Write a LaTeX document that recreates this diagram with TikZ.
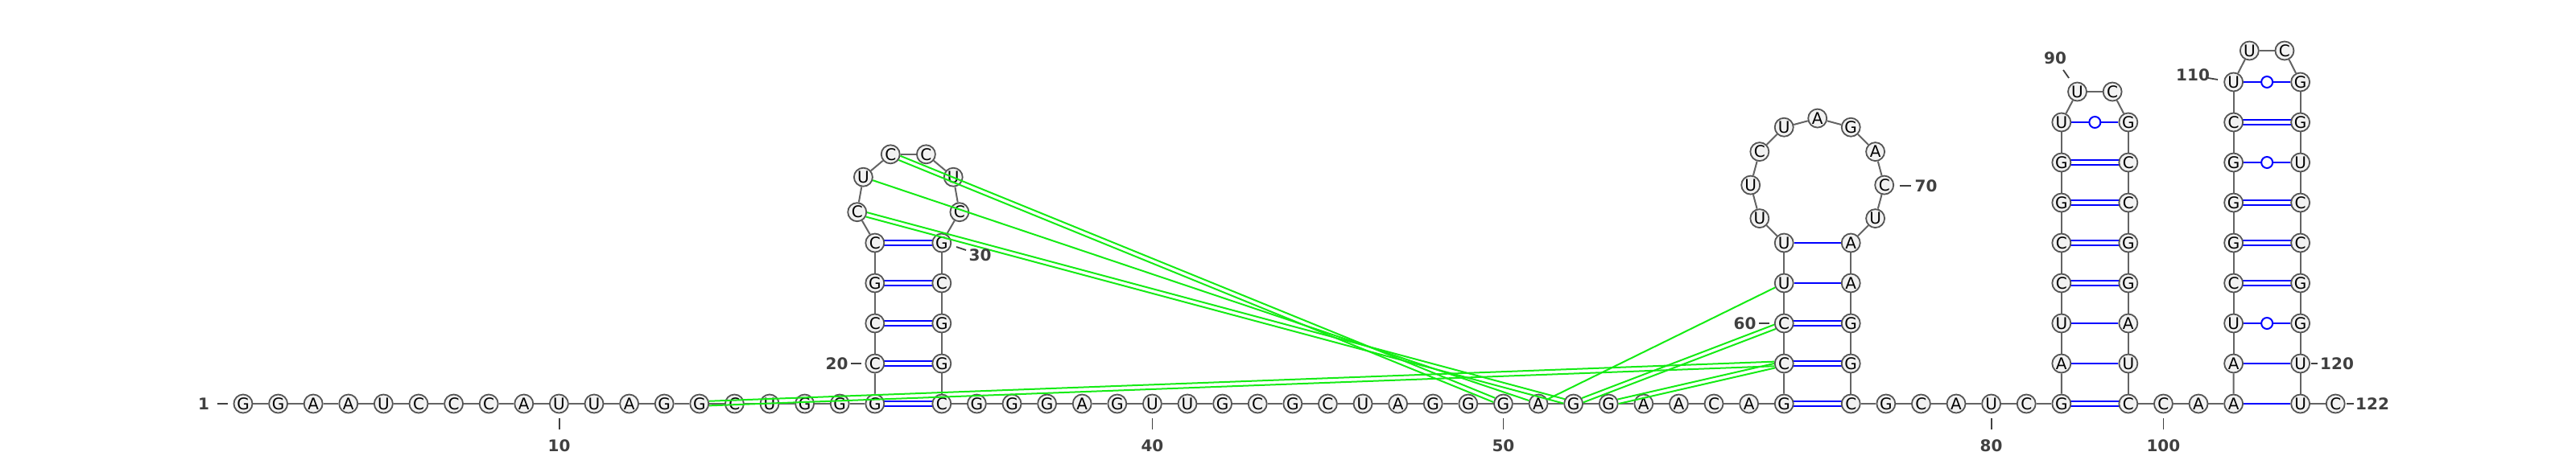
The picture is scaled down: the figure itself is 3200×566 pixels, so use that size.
\documentclass[tikz,border=0pt]{standalone}
\usepackage{fontspec}
\setmainfont{DejaVu Sans}
\usetikzlibrary{calc}
\pgfdeclarelayer{bg}
\pgfsetlayers{bg,main}
\definecolor{ntfill}{RGB}{242,242,242}
\definecolor{ntdraw}{RGB}{85,85,85}
\definecolor{bbcol}{RGB}{100,100,100}
\definecolor{lblcol}{RGB}{64,64,64}
\definecolor{pairblue}{RGB}{0,0,255}
\definecolor{tgreen}{RGB}{20,235,20}
\tikzset{
 nt/.style={circle, draw=ntdraw, line width=1.8pt, fill=ntfill, minimum size=23pt, inner sep=0pt, font=\fontsize{20}{20}\selectfont, text=black},
 bb/.style={draw=bbcol, line width=2pt},
 bpl/.style={draw=pairblue, line width=2.2pt},
 bpd/.style={draw=pairblue, line width=1.9pt},
 wob/.style={circle, draw=pairblue, line width=2pt, fill=white, minimum size=14pt, inner sep=0pt},
 grn/.style={draw=tgreen, line width=2pt},
 grnd/.style={draw=tgreen, line width=2pt, shorten <=12pt, shorten >=12pt},
 lbl/.style={font=\bfseries\fontsize{20}{20}\selectfont, text=lblcol, inner sep=0pt},
 tk/.style={draw=lblcol, line width=1.8pt},
}
\newcommand\bpone[2]{\draw[bpl] (n#1) -- (n#2);}
\newcommand\bptwo[2]{\draw[bpd] ($(n#1)!2.6pt!90:(n#2)$) -- ($(n#2)!2.6pt!-90:(n#1)$); \draw[bpd] ($(n#1)!2.6pt!-90:(n#2)$) -- ($(n#2)!2.6pt!90:(n#1)$);}
\newcommand\bpwob[2]{\draw[bpl] (n#1) -- (n#2); \node[wob] (w#1) at ($(n#1)!0.5!(n#2)$) {};}
\newcommand\gone[2]{\draw[grn] (n#1) -- (n#2);}
\newcommand\gtwo[2]{\draw[grnd] ($(n#1)!2.8pt!90:(n#2)$) -- ($(n#2)!2.8pt!-90:(n#1)$); \draw[grnd] ($(n#1)!2.8pt!-90:(n#2)$) -- ($(n#2)!2.8pt!90:(n#1)$);}
\begin{document}
\begin{tikzpicture}[x=1pt,y=-1pt]
\useasboundingbox (0,0) rectangle (3200,566);
% baseline 1-19
\foreach \i/\b in {1/G,2/G,3/A,4/A,5/U,6/C,7/C,8/C,9/A,10/U,11/U,12/A,13/G,14/G,15/C,16/U,17/G,18/G,19/G}
  \node[nt] (n\i) at ({302+(\i-1)*43.6},502) {\b};
% stem 1
\foreach \i/\b in {20/C,21/C,22/G,23/C}
  \node[nt] (n\i) at (1086.8,{502-(\i-19)*50}) {\b};
\foreach \i/\b/\a in {24/C/190,25/U/150,26/C/110,27/C/70,28/U/30,29/C/-10}
  \node[nt] (n\i) at ({1128.3+64.56*cos(\a)},{252.5-64.56*sin(\a)}) {\b};
\foreach \i/\b in {30/G,31/C,32/G,33/G,34/C}
  \node[nt] (n\i) at (1169.8,{302+(\i-30)*50}) {\b};
% baseline 35-58
\foreach \i/\b in {35/G,36/G,37/G,38/A,39/G,40/U,41/U,42/G,43/C,44/G,45/C,46/U,47/A,48/G,49/G,50/G,51/A,52/G,53/G,54/A,55/A,56/C,57/A,58/G}
  \node[nt] (n\i) at ({1169.8+(\i-34)*43.6},502) {\b};
% stem 2
\foreach \i/\b in {59/C,60/C,61/U,62/U}
  \node[nt] (n\i) at (2216.2,{502-(\i-58)*50}) {\b};
\foreach \i/\b/\a in {63/U/210,64/U/180,65/C/150,66/U/120,67/A/90,68/G/60,69/A/30,70/C/0,71/U/-30}
  \node[nt] (n\i) at ({2257.7+83*cos(\a)},{230.1-83*sin(\a)}) {\b};
\foreach \i/\b in {72/A,73/A,74/G,75/G,76/C}
  \node[nt] (n\i) at (2299.2,{302+(\i-72)*50}) {\b};
% baseline 77-82
\foreach \i/\b in {77/G,78/C,79/A,80/U,81/C,82/G}
  \node[nt] (n\i) at ({2299.2+(\i-76)*43.6},502) {\b};
% stem 3
\foreach \i/\b in {83/A,84/U,85/C,86/C,87/G,88/G,89/U}
  \node[nt] (n\i) at (2560.8,{502-(\i-82)*50}) {\b};
\node[nt] (n90) at (2580.5,114) {U};
\node[nt] (n91) at (2624.1,114) {C};
\foreach \i/\b in {92/G,93/C,94/C,95/G,96/G,97/A,98/U,99/C}
  \node[nt] (n\i) at (2643.8,{152+(\i-92)*50}) {\b};
% baseline 100-102
\foreach \i/\b in {100/C,101/A,102/A}
  \node[nt] (n\i) at ({2643.8+(\i-99)*43.6},502) {\b};
% stem 4
\foreach \i/\b in {103/A,104/U,105/C,106/G,107/G,108/G,109/C,110/U}
  \node[nt] (n\i) at (2774.6,{502-(\i-102)*50}) {\b};
\node[nt] (n111) at (2794.3,63) {U};
\node[nt] (n112) at (2837.9,63) {C};
\foreach \i/\b in {113/G,114/G,115/U,116/C,117/C,118/G,119/G,120/U,121/U}
  \node[nt] (n\i) at (2857.6,{102+(\i-113)*50}) {\b};
\node[nt] (n122) at (2901.2,502) {C};

\begin{pgfonlayer}{bg}
\foreach \i in {1,...,121}{
  \pgfmathtruncatemacro\j{\i+1}
  \draw[bb] (n\i) -- (n\j);
}
% stem 1 pairs
\bptwo{19}{34}\bptwo{20}{33}\bptwo{21}{32}\bptwo{22}{31}\bptwo{23}{30}
% stem 2 pairs
\bptwo{58}{76}\bptwo{59}{75}\bptwo{60}{74}\bpone{61}{73}\bpone{62}{72}
% stem 3 pairs
\bptwo{82}{99}\bpone{83}{98}\bpone{84}{97}\bptwo{85}{96}\bptwo{86}{95}\bptwo{87}{94}\bptwo{88}{93}\bpwob{89}{92}
% stem 4 pairs
\bpone{102}{121}\bpone{103}{120}\bpwob{104}{119}\bptwo{105}{118}\bptwo{106}{117}\bptwo{107}{116}\bpwob{108}{115}\bptwo{109}{114}\bpwob{110}{113}
\end{pgfonlayer}

% tertiary interactions
\gtwo{26}{50}
\gone{25}{51}
\gtwo{24}{52}
\gone{61}{51}
\gtwo{60}{52}
\gtwo{59}{53}
\gtwo{14}{59}

% labels
\node[lbl] (l1) at (253,502) {1};
\draw[tk] (270,502) -- (283,502);
\node[lbl] (l10) at (694.6,554) {10};
\draw[tk] (694.6,520) -- (694.6,534);
\node[lbl] (l20) at (1039.5,452) {20};
\draw[tk] (1057,452) -- (1070,452);
\node[lbl] (l30) at (1217.5,317) {30};
\draw[tk] (1188,307) -- (1200,311);
\node[lbl] (l40) at (1431.4,554) {40};
\draw[tk] (1431.4,520) -- (1431.4,534);
\node[lbl] (l50) at (1867.4,554) {50};
\draw[tk] (1867.4,520) -- (1867.4,534);
\node[lbl] (l60) at (2167.5,402) {60};
\draw[tk] (2185,402) -- (2198,402);
\node[lbl] (l70) at (2392.5,231) {70};
\draw[tk] (2360,231) -- (2374,231);
\node[lbl] (l80) at (2473.6,554) {80};
\draw[tk] (2473.6,520) -- (2473.6,534);
\node[lbl] (l90) at (2553,72) {90};
\draw[tk] (2563,87) -- (2570,97);
\node[lbl] (l100) at (2687.4,554) {100};
\draw[tk] (2687.4,520) -- (2687.4,534);
\node[lbl] (l110) at (2724,93) {110};
\draw[tk] (2743,97) -- (2755,99);
\node[lbl] (l120) at (2903,452) {120};
\draw[tk] (2871,452) -- (2879,452);
\node[lbl] (l122) at (2947,502) {122};
\draw[tk] (2915,502) -- (2924,502);
\end{tikzpicture}
\end{document}
